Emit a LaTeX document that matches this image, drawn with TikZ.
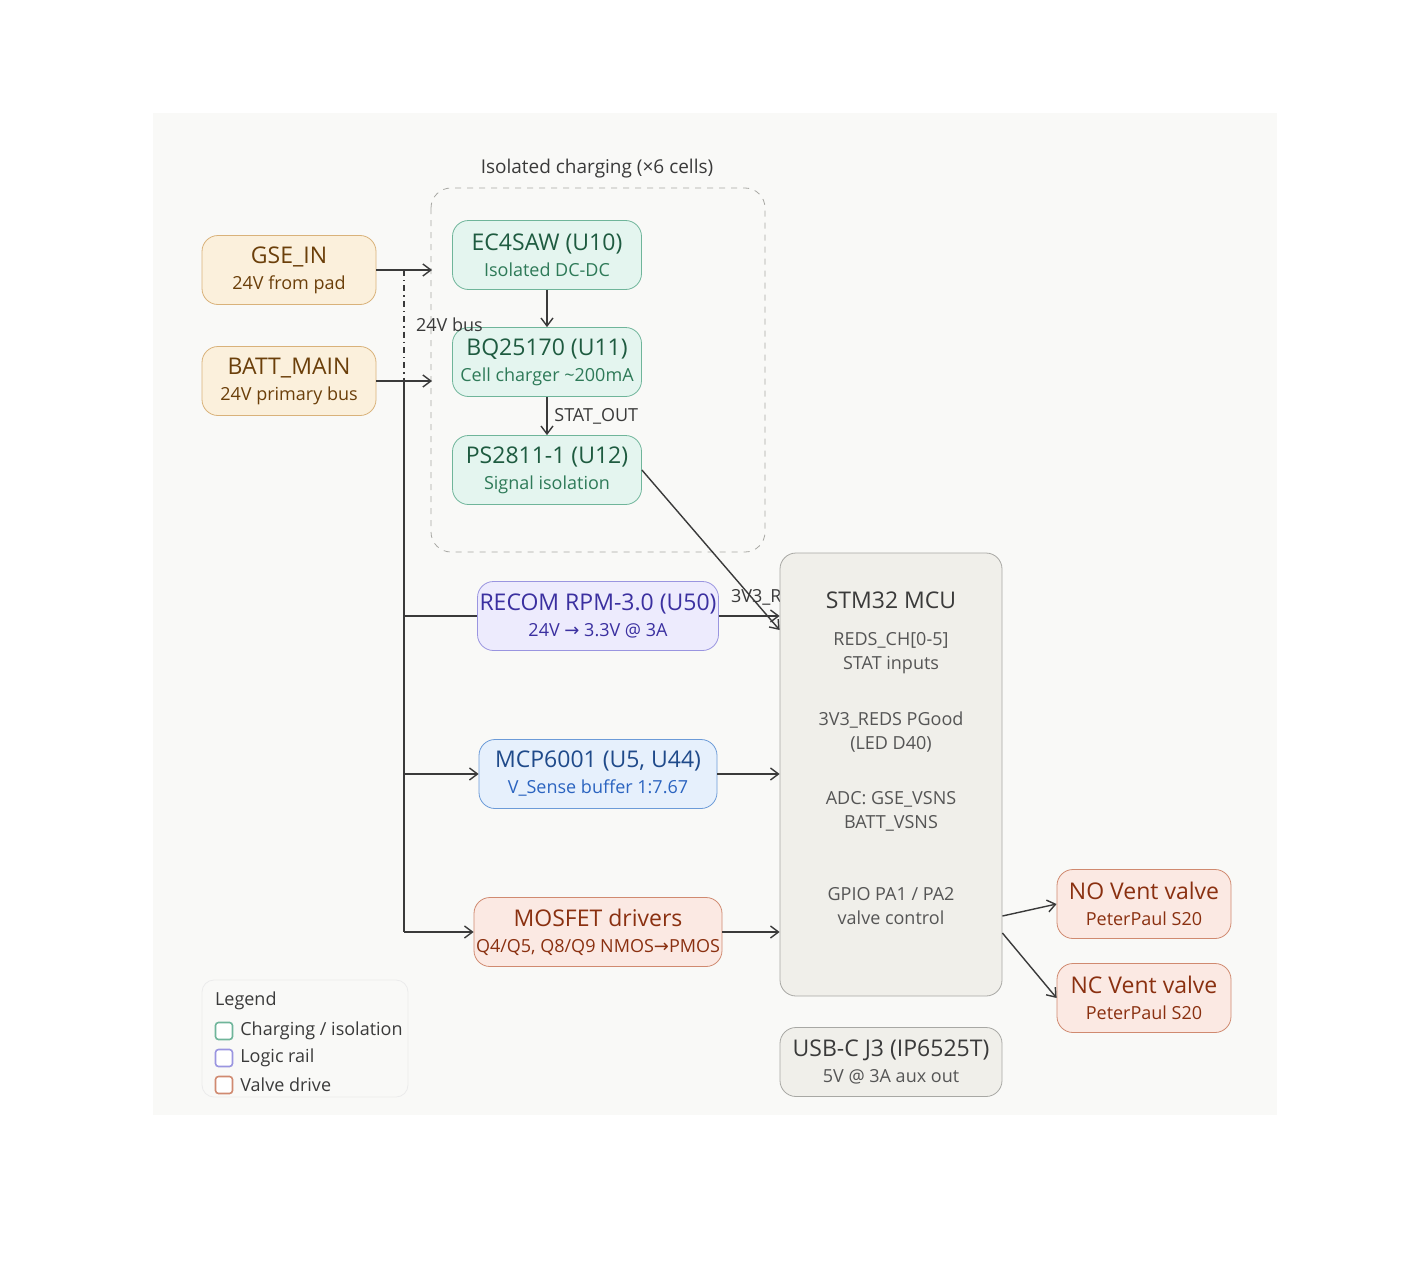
\documentclass[tikz,border=0pt]{standalone}
\usepackage{fontspec}
\setmainfont{Open Sans}
\newfontfamily\symfont{DejaVu Sans}
\usetikzlibrary{arrows.meta,positioning}
\definecolor{panelbg}{HTML}{F9F9F7}
\definecolor{srcfill}{HTML}{FBF0DC}
\definecolor{srcdraw}{HTML}{D9B27A}
\definecolor{srctext}{HTML}{6B3F0A}
\definecolor{chgfill}{HTML}{E4F5EF}
\definecolor{chgdraw}{HTML}{6FB59A}
\definecolor{chgtext}{HTML}{1E5B40}
\definecolor{chgsub}{HTML}{2E7A58}
\definecolor{logfill}{HTML}{EDEBFD}
\definecolor{logdraw}{HTML}{9A95E0}
\definecolor{logtext}{HTML}{3B30A0}
\definecolor{senfill}{HTML}{E6F0FC}
\definecolor{sendraw}{HTML}{6C9BD8}
\definecolor{sentext}{HTML}{1F4A8A}
\definecolor{sensub}{HTML}{2B64C0}
\definecolor{vlvfill}{HTML}{FBE9E3}
\definecolor{vlvdraw}{HTML}{D08A70}
\definecolor{vlvtext}{HTML}{8A3010}
\definecolor{mcufill}{HTML}{F0EFEA}
\definecolor{mcudraw}{HTML}{A8A8A4}
\definecolor{mcutext}{HTML}{555555}
\definecolor{wire}{HTML}{3A3A3A}
\newcommand\subt{\fontsize{9}{11}\selectfont}
\newcommand\rarr{{\symfont →}}
\tikzset{
  block/.style={draw,rounded corners=8pt,align=center,minimum width=#1,minimum height=34.5pt,inner sep=1pt,font=\fontsize{11.5}{14}\selectfont},
  src/.style={block=87pt,fill=srcfill,draw=srcdraw,text=srctext},
  chg/.style={block=94.5pt,fill=chgfill,draw=chgdraw,text=chgtext},
  logic/.style={block=119pt,fill=logfill,draw=logdraw,text=logtext},
  sense/.style={block=119pt,fill=senfill,draw=sendraw,text=sentext},
  valve/.style={block=119pt,fill=vlvfill,draw=vlvdraw,text=vlvtext},
  mcu/.style={block=111pt,fill=mcufill,draw=mcudraw,text=mcutext},
  wirestyle/.style={draw=wire,line width=0.7pt},
  arr/.style={wirestyle,-{Straight Barb[length=4pt,width=6pt]}},
  note/.style={font=\fontsize{9}{11}\selectfont,text=wire},
  mculine/.style={font=\fontsize{9}{12}\selectfont,text=mcutext,align=center},
  legbox/.style={draw=#1,line width=0.8pt,rounded corners=1.5pt,minimum size=8.5pt,inner sep=0pt}
}
\begin{document}
\begin{tikzpicture}[x=0.5pt,y=-0.5pt]
\useasboundingbox (0,0) rectangle (1408,1268);
\fill[panelbg] (153,113) rectangle (1277,1115);

% isolated charging group
\draw[mcudraw,dashed,rounded corners=10pt] (431,188) rectangle (765,552);
\node[note,font=\fontsize{9.5}{11}\selectfont] (grp) at (597,169) {Isolated charging (×6 cells)};

% sources
\node[src] (gse) at (289,270) {GSE\_IN\\[-1pt]{\subt 24V from pad}};
\node[src] (batt) at (289,381) {BATT\_MAIN\\[-1pt]{\subt 24V primary bus}};

% charging chain
\node[chg] (ec) at (547,255) {EC4SAW (U10)\\[-1pt]{\subt\color{chgsub}Isolated DC-DC}};
\node[chg] (bq) at (547,362) {BQ25170 (U11)\\[-1pt]{\subt\color{chgsub}Cell charger \textasciitilde200mA}};
\node[chg] (ps) at (547,470) {PS2811-1 (U12)\\[-1pt]{\subt\color{chgsub}Signal isolation}};

% rails and drivers
\node[logic] (recom) at (598,616) {RECOM RPM-3.0 (U50)\\[-1pt]{\subt 24V \rarr{} 3.3V @ 3A}};
\node[sense] (mcp) at (598,774) {MCP6001 (U5, U44)\\[-1pt]{\subt\color{sensub}V\_Sense buffer 1:7.67}};
\node[valve] (mos) at (598,932) {MOSFET drivers\\[-1pt]{\subt Q4/Q5, Q8/Q9 NMOS\rarr{}PMOS}};

\node[note,anchor=west] (reds) at (724,597) {3V3\_REDS};

% MCU
\node[mcu,minimum height=221.5pt] (mcu) at (891,774.5) {};
\node[mculine,font=\fontsize{11.5}{14}\selectfont,text=wire] (mcut) at (891,600) {STM32 MCU};
\node[mculine] (ch) at (891,653) {REDS\_CH[0-5]\\STAT inputs};
\node[mculine] (pg) at (891,732) {3V3\_REDS PGood\\(LED D40)};
\node[mculine] (adc) at (891,811) {ADC: GSE\_VSNS\\BATT\_VSNS};
\node[mculine] (gpio) at (891,906) {GPIO PA1 / PA2\\valve control};
\node[mcu,text=wire] (usb) at (891,1062) {USB-C J3 (IP6525T)\\[-1pt]{\subt\color{mcutext}5V @ 3A aux out}};

% vent valves
\node[valve,minimum width=87pt] (nov) at (1144,904) {NO Vent valve\\[-1pt]{\subt PeterPaul S20}};
\node[valve,minimum width=87pt] (ncv) at (1144,998) {NC Vent valve\\[-1pt]{\subt PeterPaul S20}};

% bus wiring
\coordinate (busA) at (404,270);
\coordinate (busB) at (404,381);
\coordinate (busE) at (404,932);
\draw[arr] (gse.east) -- (432,270);
\draw[arr] (batt.east) -- (432,381);
\draw[wirestyle,dash dot] (busA) -- (busB);
\node[note,anchor=west] (bus) at (409,325) {24V bus};
\draw[wirestyle] (busB) -- (busE);
\draw[wirestyle] (404,616) -- (recom.west);
\draw[arr] (404,774) -- (mcp.west);
\draw[arr] (busE) -- (mos.west);

% charging chain wiring
\draw[arr] (ec) -- (bq);
\draw[arr] (bq) -- node[note,right] {STAT\_OUT} (ps);
\draw[arr] (ps.east) -- (mcu.west |- 0,630);
\draw[arr] (recom.east) -- (mcu.west |- recom.east);
\draw[arr] (mcp.east) -- (mcu.west |- mcp.east);
\draw[arr] (mos.east) -- (mcu.west |- mos.east);
\draw[arr] (mcu.east |- 0,916) -- (nov.west);
\draw[arr] (mcu.east |- 0,933) -- (ncv.west);

% legend
\draw[draw=black!8,fill=panelbg,rounded corners=6pt] (202,980) rectangle (408,1097);
\node[note,anchor=west] (legt) at (208,1001) {Legend};
\node[legbox=chgdraw,fill=white] (lg1) at (224,1031) {};
\node[note,anchor=west] at (lg1.east) {Charging / isolation};
\node[legbox=logdraw,fill=white] (lg2) at (224,1058) {};
\node[note,anchor=west] at (lg2.east) {Logic rail};
\node[legbox=vlvdraw,fill=white] (lg3) at (224,1085) {};
\node[note,anchor=west] at (lg3.east) {Valve drive};
\end{tikzpicture}
\end{document}
